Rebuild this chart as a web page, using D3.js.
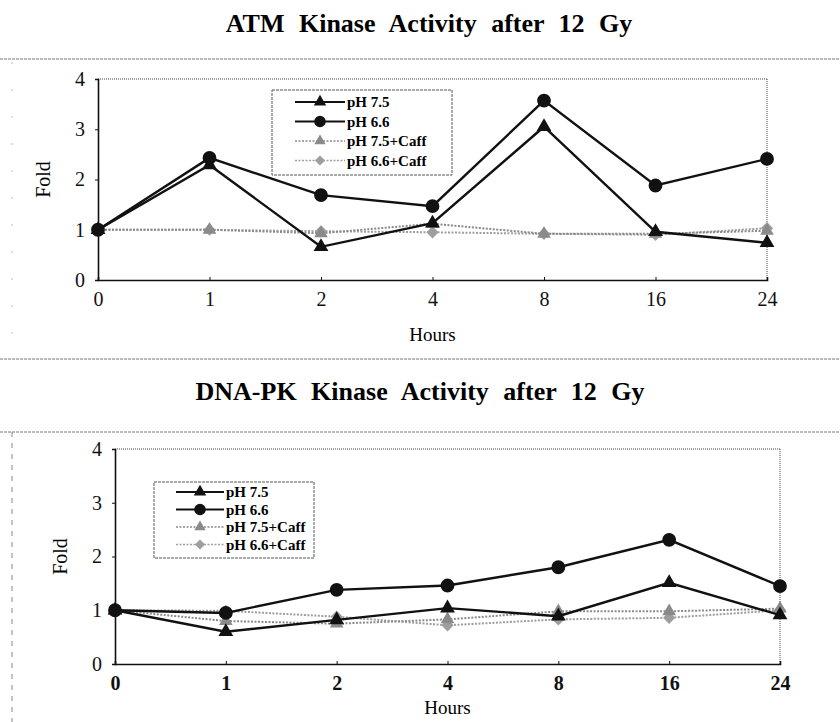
<!DOCTYPE html>
<html>
<head>
<meta charset="utf-8">
<script src="https://cdn.jsdelivr.net/npm/d3@7"></script>
<style>
  body { margin: 0; background: #fff; }
  svg { display: block; }
</style>
</head>
<body>
<script>
// data
var hours = ["0", "1", "2", "4", "8", "16", "24"];
var seriesNames = ["pH 7.5", "pH 6.6", "pH 7.5+Caff", "pH 6.6+Caff"];
var yTicks = [0, 1, 2, 3, 4];

// ATM panel
var atm_75 = [1.0, 2.29, 0.66, 1.13, 3.05, 0.96, 0.74];
var atm_66 = [1.0, 2.43, 1.69, 1.47, 3.57, 1.88, 2.41];
var atm_75c = [1.0, 1.0, 0.93, 1.12, 0.92, 0.92, 0.98];
var atm_66c = [1.0, 1.0, 0.97, 0.95, 0.92, 0.90, 1.03];

// DNA-PK panel
var pk_75 = [1.0, 0.60, 0.82, 1.04, 0.89, 1.51, 0.91];
var pk_66 = [1.0, 0.95, 1.38, 1.46, 1.80, 2.31, 1.45];
var pk_75c = [1.0, 0.80, 0.75, 0.83, 0.98, 0.98, 1.03];
var pk_66c = [1.0, 0.99, 0.88, 0.72, 0.83, 0.86, 1.00];

var width = 840, height = 722;
var serif = "'Liberation Serif', 'DejaVu Serif', serif";

var svg = d3.select("body").append("svg")
    .attr("width", width)
    .attr("height", height);

// styles per series
var styles = [
  { color: "#111", width: 2.4, dash: null, sym: d3.symbolTriangle, size: 95, rot: 0 },
  { color: "#111", width: 2.4, dash: null, sym: d3.symbolCircle, size: 150, rot: 0 },
  { color: "#8a8a8a", width: 2, dash: "2,1.5", sym: d3.symbolTriangle, size: 80, rot: 0 },
  { color: "#9e9e9e", width: 2, dash: "2,1.5", sym: d3.symbolSquare, size: 75, rot: 45 }
];

// separators (fine dotted lines across the page)
[59, 359, 432].forEach(function(yy) {
  svg.append("line")
    .attr("x1", 0).attr("x2", width)
    .attr("y1", yy).attr("y2", yy)
    .attr("stroke", "#666")
    .attr("stroke-width", 0.9)
    .attr("stroke-dasharray", "3,1");
});
svg.append("line")
  .attr("x1", 12).attr("x2", 12).attr("y1", 432).attr("y2", height)
  .attr("stroke", "#888").attr("stroke-dasharray", "5,6");
svg.append("line")
  .attr("x1", 12).attr("x2", 12).attr("y1", 62).attr("y2", 356)
  .attr("stroke", "#bbb").attr("stroke-dasharray", "2,25");

function drawPanel(p, data) {
  var x = d3.scalePoint().domain(hours).range([p.l, p.r]).padding(0);
  var y = d3.scaleLinear().domain([0, 4]).range([p.b, p.t]);

  // title
  svg.append("text")
    .attr("x", p.titleX).attr("y", p.titleY)
    .attr("text-anchor", "middle")
    .style("font-family", serif)
    .style("font-size", "26px")
    .style("font-weight", "bold")
    .style("word-spacing", "8px")
    .text(p.title);

  // frame: top and right dotted, left and bottom solid
  svg.append("line").attr("x1", p.l).attr("x2", p.r).attr("y1", p.t).attr("y2", p.t)
    .attr("stroke", "#444").attr("stroke-dasharray", "1,1");
  svg.append("line").attr("x1", p.r).attr("x2", p.r).attr("y1", p.t).attr("y2", p.b)
    .attr("stroke", "#444").attr("stroke-dasharray", "1,1");

  // y axis
  var ya = svg.append("g")
    .attr("transform", "translate(" + p.l + ",0)")
    .call(d3.axisLeft(y).tickValues(yTicks).tickFormat(d3.format("d")).tickSize(3).tickPadding(p.yPad));
  ya.select(".domain").attr("stroke", "#111").attr("stroke-width", 1.6);
  ya.selectAll(".tick line").attr("stroke", "#111");
  ya.selectAll("text")
    .style("font-family", serif).style("font-size", "20px")
    .attr("fill", "#111");

  // x axis
  var xa = svg.append("g")
    .attr("transform", "translate(0," + p.b + ")")
    .call(d3.axisBottom(x).tickSize(-3).tickPadding(p.xPad));
  xa.select(".domain").attr("stroke", "#111").attr("stroke-width", 1.6);
  xa.selectAll(".tick line").attr("stroke", "#111");
  xa.selectAll("text")
    .style("font-family", serif).style("font-size", "20px")
    .style("font-weight", p.xBold ? "bold" : "normal")
    .attr("fill", "#111");

  // axis titles
  svg.append("text")
    .attr("transform", "translate(" + p.foldX + "," + ((p.t + p.b) / 2) + ") rotate(-90)")
    .attr("text-anchor", "middle")
    .attr("dy", "0.35em")
    .style("font-family", serif).style("font-size", "20px")
    .text("Fold");
  svg.append("text")
    .attr("x", x("4")).attr("y", p.hoursY)
    .attr("text-anchor", "middle")
    .style("font-family", serif).style("font-size", p.hoursSize)
    .text("Hours");

  // lines, gray ones first so the black ones sit on top
  var line = d3.line()
    .x(function(d, i) { return x(hours[i]); })
    .y(function(d) { return y(d); });
  [3, 2, 0, 1].forEach(function(k) {
    var s = styles[k];
    svg.append("path")
      .datum(data[k])
      .attr("d", line)
      .attr("fill", "none")
      .attr("stroke", s.color)
      .attr("stroke-width", s.width)
      .attr("stroke-dasharray", s.dash);
    svg.selectAll(null)
      .data(data[k])
      .enter().append("path")
      .attr("d", d3.symbol().type(s.sym).size(s.size))
      .attr("transform", function(d, i) {
        return "translate(" + x(hours[i]) + "," + y(d) + ") rotate(" + s.rot + ")";
      })
      .attr("fill", s.color);
  });

  // legend
  var lg = p.legend;
  svg.append("rect")
    .attr("x", lg.x).attr("y", lg.y)
    .attr("width", lg.w).attr("height", lg.h)
    .attr("fill", "#fff")
    .attr("stroke", "#555")
    .attr("stroke-dasharray", "3,1");
  seriesNames.forEach(function(name, k) {
    var s = styles[k];
    var cy = lg.y + lg.first + k * lg.step;
    svg.append("line")
      .attr("x1", lg.lx1).attr("x2", lg.lx2).attr("y1", cy).attr("y2", cy)
      .attr("stroke", s.color)
      .attr("stroke-width", s.width - 0.4)
      .attr("stroke-dasharray", s.dash);
    svg.append("path")
      .attr("d", d3.symbol().type(s.sym).size(s.size * 0.7))
      .attr("transform", "translate(" + ((lg.lx1 + lg.lx2) / 2) + "," + cy + ") rotate(" + s.rot + ")")
      .attr("fill", s.color);
    svg.append("text")
      .attr("x", lg.lx2 + 2).attr("y", cy)
      .attr("dy", "0.35em")
      .style("font-family", serif).style("font-size", "15px")
      .style("font-weight", "bold")
      .text(name);
  });
}

drawPanel({
  title: "ATM Kinase Activity after 12 Gy", titleX: 429, titleY: 32,
  l: 98, r: 767, t: 79, b: 280,
  yPad: 10, xPad: 12, xBold: false,
  foldX: 43, hoursY: 341, hoursSize: "19px",
  legend: { x: 272, y: 90, w: 180, h: 85, first: 12, step: 19.5, lx1: 295, lx2: 345 }
}, [atm_75, atm_66, atm_75c, atm_66c]);

drawPanel({
  title: "DNA-PK Kinase Activity after 12 Gy", titleX: 420, titleY: 400,
  l: 115, r: 780, t: 449, b: 664,
  yPad: 10, xPad: 12, xBold: true,
  foldX: 60, hoursY: 714, hoursSize: "19px",
  legend: { x: 154, y: 482, w: 160, h: 76, first: 10, step: 17.5, lx1: 176, lx2: 224 }
}, [pk_75, pk_66, pk_75c, pk_66c]);
</script>
</body>
</html>
